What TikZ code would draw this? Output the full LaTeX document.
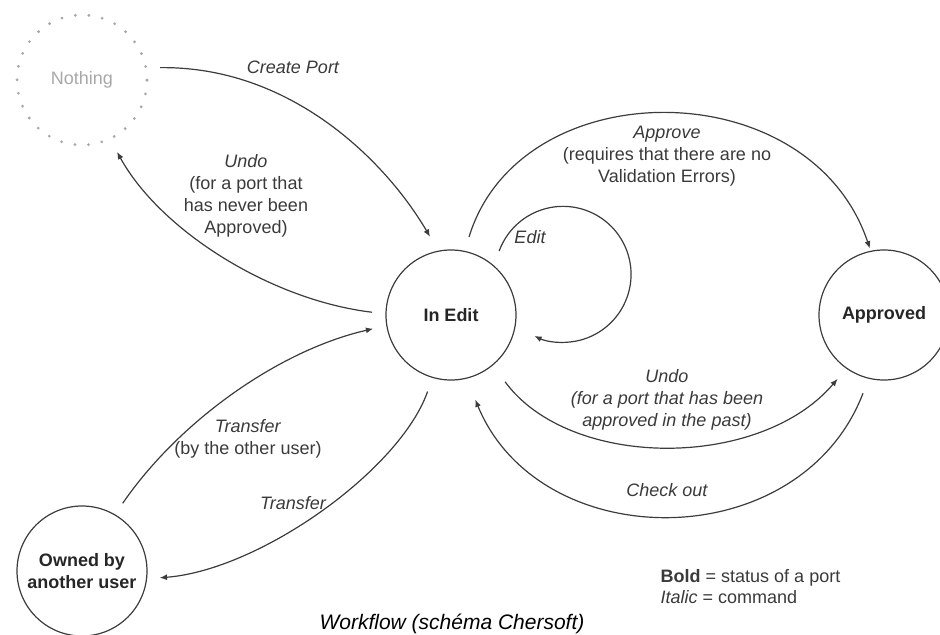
\documentclass[tikz,border=0pt]{standalone}
\usepackage{fontspec}
\setmainfont{Liberation Sans}
\usetikzlibrary{arrows.meta,calc}
\definecolor{linec}{HTML}{3C3C3C}
\definecolor{txtc}{HTML}{3A3A3A}
\definecolor{nothc}{HTML}{A8A8A8}
\newcommand\lblsize{\fontsize{13.5}{16.5}\selectfont}
\begin{document}
\begin{tikzpicture}[x=0.75pt,y=0.75pt,
  state/.style={circle,draw=linec,line width=0.9pt,minimum size=97.5pt,inner sep=0pt,
    font=\lblsize\bfseries,align=center,text=black!85},
  conn/.style={draw=linec,line width=0.9pt,-{Latex[length=5.5pt,width=4.5pt]}},
  lbl/.style={font=\lblsize\itshape,text=txtc,align=center},
  lblr/.style={font=\lblsize,text=txtc,align=center}]
\useasboundingbox (0,0) rectangle (940,-635);
% states
\node[circle,minimum size=97.5pt,inner sep=0pt,draw=nothc,line width=2.3pt,
  dash pattern=on 0pt off 10.2pt,line cap=round,font=\lblsize,text=nothc] (nothing) at (82,-80) {Nothing};
\node[state] (inedit) at (451,-315) {In Edit};
\node[state] (approved) at (884,-315) {Approved};
\node[state] (owned) at (82,-571) {Owned by\\another user};
% connectors
\draw[conn] ([shift={(9:79)}]nothing.center) .. controls (290,-66) and (385,-160) .. ([shift={(105:81)}]inedit.center);
\draw[conn] ([shift={(178:79)}]inedit.center) .. controls (270,-300) and (160,-230) .. ([shift={(-64:80)}]nothing.center);
\draw[conn] ([shift={(77:80)}]inedit.center) .. controls (520,-70) and (810,-70) .. ([shift={(102:68)}]approved.center);
\draw[conn] ([shift={(53:80)}]inedit.center) arc[start angle=160,end angle=-115,radius=68];
\draw[conn] ([shift={(-51:86)}]inedit.center) .. controls (570,-470) and (760,-470) .. ([shift={(-126:79)}]approved.center);
\draw[conn] ([shift={(-105:81)}]approved.center) .. controls (800,-557) and (540,-557) .. ([shift={(-74:88)}]inedit.center);
\draw[conn] ([shift={(59:79)}]owned.center) .. controls (180,-420) and (280,-350) .. ([shift={(190:79)}]inedit.center);
\draw[conn] ([shift={(-107:80)}]inedit.center) .. controls (400,-470) and (260,-570) .. ([shift={(-5:78)}]owned.center);
% labels
\node[lbl] (lcreate) at (293,-67) {Create Port};
\node[lblr] (lundo1) at (246,-196) {\textit{Undo}\\(for a port that\\has never been\\Approved)};
\node[lblr] (lapprove) at (667,-156) {\textit{Approve}\\(requires that there are no\\Validation Errors)};
\node[lbl] (ledit) at (530,-237) {Edit};
\node[lbl] (lundo2) at (667,-400) {Undo\\(for a port that has been\\approved in the past)};
\node[lbl] (lcheck) at (667,-490) {Check out};
\node[lblr] (ltrans1) at (248,-439) {\textit{Transfer}\\(by the other user)};
\node[lbl] (ltrans2) at (293,-503) {Transfer};
\node[font=\fontsize{13.5}{15.75}\selectfont,text=txtc,align=left,anchor=west] (legend) at (656,-587)
  {\textbf{Bold} = status of a port\\\textit{Italic} = command};
\node[font=\fontsize{15.75}{18}\selectfont\itshape,text=black,anchor=base] (caption) at (452,-629) {Workflow (schéma Chersoft)};
\end{tikzpicture}
\end{document}
